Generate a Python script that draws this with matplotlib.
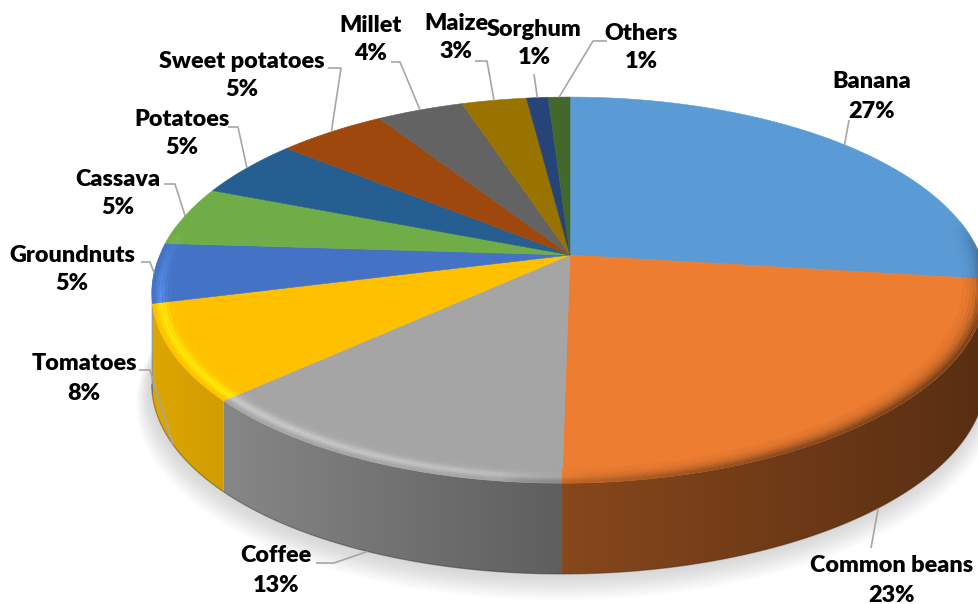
import numpy as np
import matplotlib
matplotlib.use("Agg")
import matplotlib.pyplot as plt
from matplotlib.patches import Polygon
from matplotlib.collections import LineCollection
from matplotlib.colors import to_rgb
from matplotlib import font_manager

# ---- data -------------------------------------------------------------
categories = ["Banana", "Common beans", "Coffee", "Tomatoes", "Groundnuts",
              "Cassava", "Potatoes", "Sweet potatoes", "Millet", "Maize",
              "Sorghum", "Others"]
shares = [27, 23, 13, 8, 5, 5, 5, 5, 4, 3, 1, 1]
colors = ["#5B9BD5", "#ED7D31", "#A5A5A5", "#FFC000", "#4472C4", "#70AD47",
          "#255E91", "#9E480E", "#636363", "#997300", "#264478", "#43682B"]

# label layout (pixel space): centre of the name line, and leader start points
label_pos = [(872, 82), (892, 566), (276, 556), (84, 364), (72, 255),
             (118, 179), (182, 119), (242, 61), (371, 25), (456, 23),
             (534, 29), (641, 33)]
leader_start = [[(849, 120)], [(871, 548)], [(316, 563), (334, 563)],
                [(139, 370), (150, 370)], [(141, 262), (150, 262)],
                [(164, 184), (175, 184)], [(228, 127), (238, 127)],
                [(328, 68), (341, 68)], [(391, 62), (400, 62)],
                [(475, 61), (487, 61)], [(534, 74)], [(607, 41), (593, 41)]]

# ---- figure -----------------------------------------------------------
W, H = 979, 604
fig = plt.figure(figsize=(W / 100, H / 100), dpi=100)
ax = fig.add_axes([0, 0, 1, 1])
ax.set_xlim(0, W)
ax.set_ylim(H, 0)
ax.axis("off")

installed = {f.name for f in font_manager.fontManager.ttflist}
if "Lato" in installed:
    FONT, FSIZE = ["Lato", "DejaVu Sans"], 16.8
else:
    FONT, FSIZE = ["Liberation Sans", "DejaVu Sans"], 15

# perspective view of a tilted disc
CX, CY = 570.0, 255.0      # projected disc centre
KX, KY = 410.0, 186.6      # horizontal / vertical radius scale
PERSP = 0.1815             # depth foreshortening
DEPTH = 91.0               # thickness of the pie
SHEAR = 0.035


def project(theta, r=1.0, z=0.0):
    theta = np.asarray(theta, dtype=float)
    x = r * np.sin(theta)
    y = r * np.cos(theta)
    w = 1.0 + PERSP * y
    u = KX * x / w
    v = -KY * y / w
    px = CX + u - SHEAR * np.clip(v, 0, None)
    py = CY + v + z
    return px, py


fractions = np.asarray(shares, dtype=float) / np.sum(shares)
bounds = np.concatenate([[0.0], np.cumsum(fractions)]) * 2 * np.pi
rgb = np.array([to_rgb(c) for c in colors])

tt = np.linspace(0, 2 * np.pi, 3601)
rx, ry = project(tt)
th_right = tt[np.argmax(rx)]
th_left = tt[np.argmin(rx)]
xmin, xmax = rx.min(), rx.max()

# ---- soft shadow under the pie ---------------------------------------
bx, by = project(tt, 1.0, DEPTH)
bcx, bcy = 0.5 * (bx.min() + bx.max()), 0.5 * (by.min() + by.max())
for i in range(14):
    s = 1.0 + 0.0025 * i
    sx = bcx - 2 + (bx - bcx) * s
    sy = bcy + 3 + 1.3 * i + (by - bcy) * s
    ax.add_patch(Polygon(np.column_stack([sx, sy]), closed=True,
                         facecolor="#8c8c8c", edgecolor="none",
                         alpha=0.022, zorder=0))


def side_factor(x):
    return np.interp(x, [150, 563, 985], [0.87, 0.57, 0.37])


# ---- side walls -------------------------------------------------------
for i, col in enumerate(colors):
    a0 = max(bounds[i], th_right)
    a1 = min(bounds[i + 1], th_left)
    if a1 <= a0:
        continue
    th = np.linspace(a0, a1, 200)
    tx, ty = project(th)
    bx2, by2 = project(th, 1.0, DEPTH)
    pts = np.column_stack([np.concatenate([tx, bx2[::-1]]),
                           np.concatenate([ty, by2[::-1]])])
    poly = Polygon(pts, closed=True, facecolor="none", edgecolor="none")
    ax.add_patch(poly)
    x0, x1 = pts[:, 0].min() - 1, pts[:, 0].max() + 1
    y0, y1 = pts[:, 1].min() - 1, pts[:, 1].max() + 1
    xs = np.linspace(x0, x1, 256)
    grad = np.clip(rgb[i][None, None, :] * side_factor(xs)[None, :, None],
                   0, 1)
    grad = np.repeat(grad, 2, axis=0)
    im = ax.imshow(grad, extent=(x0, x1, y1, y0), aspect="auto",
                   interpolation="bilinear", zorder=1)
    im.set_clip_path(poly)
    ax.plot(bx2, by2, color=tuple(rgb[i] * 0.3), lw=0.9, alpha=0.45,
            zorder=1.1, solid_capstyle="butt")

ax.set_xlim(0, W)
ax.set_ylim(H, 0)

# ---- top faces --------------------------------------------------------
for i, col in enumerate(colors):
    th = np.linspace(bounds[i], bounds[i + 1], 240)
    tx, ty = project(th)
    pts = np.vstack([[CX, CY], np.column_stack([tx, ty])])
    ax.add_patch(Polygon(pts, closed=True, facecolor=col, edgecolor=col,
                         lw=0.4, zorder=2))

# ---- rounded rim: lit on the left, shaded on the right -----------------
pad = 0.35
seg_th = np.linspace(th_right - pad, th_left + pad, 700)
mid_th = 0.5 * (seg_th[:-1] + seg_th[1:])
fade = np.clip((mid_th - (th_right - pad)) / pad, 0, 1) * \
    np.clip(((th_left + pad) - mid_th) / pad, 0, 1)
idx = np.clip(np.searchsorted(bounds, mid_th % (2 * np.pi), side="right") - 1,
              0, len(colors) - 1)
base = rgb[idx]
hi_col = np.clip(base * 1.22 + 0.04, 0, 1)
lo_col = base * 0.40
mx, _ = project(mid_th)
t = (mx - xmin) / (xmax - xmin)
w_lit = np.clip((0.52 - t) / 0.52, 0, 1) ** 0.35 * fade
w_shd = np.clip((t - 0.42) / 0.58, 0, 1) ** 0.5 * fade

bands = [(0.950, 0.05, 0.05), (0.958, 0.15, 0.10), (0.966, 0.40, 0.18),
         (0.973, 0.75, 0.28), (0.980, 0.90, 0.42), (0.986, 0.60, 0.58),
         (0.992, 0.25, 0.75), (0.997, 0.05, 0.88)]
for r, hl, sh in bands:
    x, y = project(seg_th, r)
    pts = np.column_stack([x, y])
    segs = np.stack([pts[:-1], pts[1:]], axis=1)
    a = (hl * w_lit)[:, None]
    b = (sh * w_shd)[:, None]
    c = base * (1 - a) + hi_col * a
    c = c * (1 - b) + lo_col * b
    ax.add_collection(LineCollection(segs, colors=np.clip(c, 0, 1),
                                     linewidths=1.9, zorder=3,
                                     capstyle="butt"))

# ---- labels and leader lines -----------------------------------------
for i, name in enumerate(categories):
    mid = 0.5 * (bounds[i] + bounds[i + 1])
    if th_right <= mid <= th_left:
        ex, ey = project(mid, 1.0, DEPTH)
    else:
        ex, ey = project(mid, 1.0)
    path = np.array(leader_start[i] + [(float(ex), float(ey))])
    ax.plot(path[:, 0], path[:, 1], color="#A6A6A6", lw=1.2, zorder=4,
            solid_capstyle="butt")
    lx, ly = label_pos[i]
    pct = f"{shares[i] / sum(shares) * 100:.0f}%"
    ax.text(lx, ly, name, ha="center", va="center", fontsize=FSIZE,
            fontweight="heavy", family=FONT, color="black", zorder=5)
    ax.text(lx, ly + 29, pct, ha="center", va="center", fontsize=FSIZE,
            fontweight="heavy", family=FONT, color="black", zorder=5)

fig.savefig("out.png", dpi=100)
